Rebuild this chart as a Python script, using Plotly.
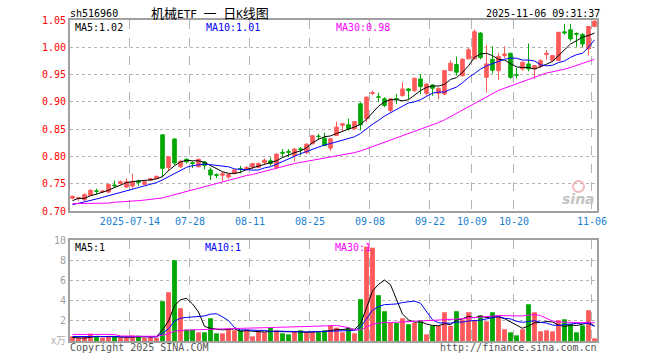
import plotly.graph_objects as go

# ---------------- data ----------------
dates = [
    "2025-06-30", "2025-07-01", "2025-07-02", "2025-07-03", "2025-07-04", "2025-07-07", "2025-07-08",
    "2025-07-09", "2025-07-10", "2025-07-11", "2025-07-14", "2025-07-15", "2025-07-16", "2025-07-17",
    "2025-07-18", "2025-07-21", "2025-07-22", "2025-07-23", "2025-07-24", "2025-07-25", "2025-07-28",
    "2025-07-29", "2025-07-30", "2025-07-31", "2025-08-01", "2025-08-04", "2025-08-05", "2025-08-06",
    "2025-08-07", "2025-08-08", "2025-08-11", "2025-08-12", "2025-08-13", "2025-08-14", "2025-08-15",
    "2025-08-18", "2025-08-19", "2025-08-20", "2025-08-21", "2025-08-22", "2025-08-25", "2025-08-26",
    "2025-08-27", "2025-08-28", "2025-08-29", "2025-09-01", "2025-09-02", "2025-09-03", "2025-09-04",
    "2025-09-05", "2025-09-08", "2025-09-09", "2025-09-10", "2025-09-11", "2025-09-12", "2025-09-15",
    "2025-09-16", "2025-09-17", "2025-09-18", "2025-09-19", "2025-09-22", "2025-09-23", "2025-09-24",
    "2025-09-25", "2025-09-26", "2025-09-29", "2025-09-30", "2025-10-09", "2025-10-10", "2025-10-13",
    "2025-10-14", "2025-10-15", "2025-10-16", "2025-10-17", "2025-10-20", "2025-10-21", "2025-10-22",
    "2025-10-23", "2025-10-24", "2025-10-27", "2025-10-28", "2025-10-29", "2025-10-30", "2025-10-31",
    "2025-11-03", "2025-11-04", "2025-11-05", "2025-11-06",
]

open_ = [
    0.7235, 0.7230, 0.7205, 0.7285, 0.7370, 0.7350, 0.7346, 0.7475, 0.7506, 0.7438,
    0.7457, 0.7549, 0.7488, 0.7562, 0.7593, 0.8395, 0.7796, 0.8320, 0.7810, 0.7950,
    0.7885, 0.7810, 0.7900, 0.7753, 0.7666, 0.7654, 0.7623, 0.7685, 0.7778, 0.7765,
    0.7808, 0.7800, 0.7889, 0.7920, 0.7796, 0.8075, 0.8090, 0.8020, 0.8140, 0.8070,
    0.8232, 0.8372, 0.8335, 0.8152, 0.8384, 0.8570, 0.8579, 0.8506, 0.8964, 0.8690,
    0.9155, 0.9092, 0.9055, 0.8842, 0.9060, 0.9114, 0.9236, 0.9206, 0.9420, 0.9157,
    0.9310, 0.9157, 0.9144, 0.9574, 0.9684, 0.9480, 0.9788, 0.9788, 1.0260, 0.9450,
    0.9780, 0.9570, 0.9848, 0.9890, 0.9497, 0.9604, 0.9695, 0.9604, 0.9652, 0.9866,
    0.9756, 0.9756, 1.0284, 1.0320, 1.0253, 1.0235, 0.9970, 1.0380,
]
high = [
    0.7280, 0.7255, 0.7320, 0.7395, 0.7410, 0.7375, 0.7500, 0.7560, 0.7560, 0.7599,
    0.7685, 0.7574, 0.7540, 0.7610, 0.7648, 0.8400, 0.8000, 0.8330, 0.7940, 0.7960,
    0.7907, 0.7956, 0.7910, 0.7796, 0.7690, 0.7716, 0.7680, 0.7760, 0.7827, 0.7827,
    0.7880, 0.7890, 0.7963, 0.7980, 0.8050, 0.8136, 0.8134, 0.8150, 0.8170, 0.8240,
    0.8390, 0.8415, 0.8433, 0.8330, 0.8640, 0.8610, 0.8690, 0.8650, 0.8990, 0.9100,
    0.9208, 0.9165, 0.9086, 0.9070, 0.9144, 0.9360, 0.9249, 0.9440, 0.9512, 0.9340,
    0.9320, 0.9260, 0.9580, 0.9760, 0.9831, 0.9800, 0.9990, 1.0330, 1.0280, 1.0040,
    1.0020, 0.9900, 1.0020, 0.9900, 0.9620, 0.9735, 1.0070, 0.9665, 0.9780, 0.9950,
    0.9855, 1.0280, 1.0430, 1.0430, 1.0270, 1.0260, 1.0390, 1.0490,
]
low = [
    0.7215, 0.7185, 0.7180, 0.7280, 0.7305, 0.7335, 0.7327, 0.7426, 0.7488, 0.7426,
    0.7414, 0.7457, 0.7480, 0.7556, 0.7590, 0.7620, 0.7734, 0.7846, 0.7790, 0.7870,
    0.7790, 0.7800, 0.7765, 0.7568, 0.7600, 0.7550, 0.7590, 0.7670, 0.7690, 0.7735,
    0.7765, 0.7780, 0.7858, 0.7827, 0.7765, 0.7980, 0.7990, 0.7908, 0.8018, 0.8040,
    0.8220, 0.8310, 0.8189, 0.8100, 0.8380, 0.8470, 0.8476, 0.8490, 0.8476, 0.8630,
    0.9120, 0.8995, 0.8903, 0.8800, 0.8960, 0.9096, 0.9050, 0.9180, 0.9144, 0.9114,
    0.9114, 0.9050, 0.9120, 0.9560, 0.9480, 0.9460, 0.9780, 0.9780, 0.9780, 0.9170,
    0.9520, 0.9405, 0.9800, 0.9420, 0.9430, 0.9570, 0.9560, 0.9420, 0.9620, 0.9770,
    0.9740, 0.9750, 1.0230, 1.0110, 1.0010, 1.0000, 0.9846, 1.0380,
]
close = [
    0.7270, 0.7245, 0.7300, 0.7380, 0.7360, 0.7365, 0.7488, 0.7463, 0.7537, 0.7537,
    0.7531, 0.7525, 0.7537, 0.7593, 0.7636, 0.7780, 0.7994, 0.7880, 0.7910, 0.7900,
    0.7870, 0.7950, 0.7833, 0.7660, 0.7654, 0.7685, 0.7673, 0.7753, 0.7772, 0.7796,
    0.7870, 0.7870, 0.7932, 0.7870, 0.8043, 0.8060, 0.8075, 0.8135, 0.8125, 0.8225,
    0.8380, 0.8366, 0.8201, 0.8323, 0.8537, 0.8600, 0.8506, 0.8640, 0.8579, 0.9086,
    0.9170, 0.9086, 0.8933, 0.9055, 0.9050, 0.9236, 0.9206, 0.9433, 0.9280, 0.9328,
    0.9249, 0.9249, 0.9574, 0.9708, 0.9543, 0.9780, 0.9954, 1.0285, 0.9810, 0.9696,
    0.9580, 0.9830, 0.9878, 0.9450, 0.9488, 0.9726, 0.9604, 0.9665, 0.9756, 0.9890,
    0.9848, 1.0275, 1.0265, 1.0154, 1.0240, 1.0060, 1.0380, 1.0480,
]

ma5 = [
    0.719, 0.7232, 0.7232, 0.728, 0.731, 0.734, 0.738, 0.743, 0.748, 0.752,
    0.754, 0.755, 0.755, 0.757, 0.759, 0.763, 0.774, 0.783, 0.790, 0.793,
    0.792, 0.792, 0.789, 0.783, 0.777, 0.772, 0.769, 0.769, 0.771, 0.776,
    0.779, 0.782, 0.785, 0.788, 0.792, 0.798, 0.803, 0.807, 0.810, 0.816,
    0.825, 0.8315, 0.836, 0.8376, 0.842, 0.8467, 0.850, 0.854, 0.859, 0.868,
    0.880, 0.892, 0.900, 0.904, 0.904, 0.902, 0.904, 0.913, 0.9206, 0.9267,
    0.929, 0.929, 0.932, 0.941, 0.9445, 0.954, 0.966, 0.9815, 0.9877, 0.989,
    0.9846, 0.978, 0.9766, 0.970, 0.964, 0.963, 0.963, 0.960, 0.964, 0.969,
    0.974, 0.9846, 0.997, 1.006, 1.012, 1.0185, 1.0216, 1.026,
]
ma10 = [
    0.7116, 0.714, 0.716, 0.719, 0.722, 0.725, 0.728, 0.731, 0.734, 0.737,
    0.740, 0.743, 0.746, 0.749, 0.752, 0.757, 0.763, 0.769, 0.775, 0.780,
    0.783, 0.785, 0.786, 0.785, 0.784, 0.783, 0.781, 0.777, 0.776, 0.775,
    0.775, 0.775, 0.779, 0.781, 0.786, 0.791, 0.795, 0.801, 0.805, 0.809,
    0.813, 0.8176, 0.821, 0.8236, 0.8267, 0.830, 0.833, 0.836, 0.842, 0.851,
    0.859, 0.866, 0.874, 0.880, 0.886, 0.892, 0.898, 0.900, 0.904, 0.910,
    0.916, 0.918, 0.918, 0.923, 0.927, 0.935, 0.9445, 0.952, 0.960, 0.966,
    0.970, 0.9735, 0.978, 0.980, 0.980, 0.9766, 0.9766, 0.975, 0.968, 0.966,
    0.967, 0.972, 0.975, 0.9815, 0.9864, 0.989, 1.000, 1.0136,
]
ma30 = [
    0.7135, 0.7135, 0.7135, 0.7135, 0.7135, 0.7135, 0.7145, 0.716, 0.7165, 0.717,
    0.718, 0.719, 0.720, 0.721, 0.722, 0.724, 0.727, 0.730, 0.733, 0.736,
    0.739, 0.742, 0.745, 0.748, 0.751, 0.754, 0.757, 0.760, 0.763, 0.765,
    0.767, 0.770, 0.773, 0.776, 0.779, 0.782, 0.785, 0.787, 0.789, 0.791,
    0.793, 0.795, 0.797, 0.798, 0.800, 0.802, 0.804, 0.807, 0.810, 0.814,
    0.817, 0.821, 0.825, 0.829, 0.833, 0.837, 0.841, 0.845, 0.849, 0.853,
    0.858, 0.862, 0.867, 0.873, 0.880, 0.886, 0.892, 0.898, 0.904, 0.910,
    0.916, 0.921, 0.925, 0.929, 0.933, 0.937, 0.941, 0.945, 0.949, 0.953,
    0.955, 0.957, 0.960, 0.963, 0.967, 0.971, 0.974, 0.978,
]

volume = [
    0.46, 0.33, 0.40, 0.73, 0.40, 0.33, 0.46, 0.40, 0.33, 0.40,
    0.56, 0.53, 0.33, 0.40, 0.33, 3.94, 4.83, 8.00, 3.25, 1.13,
    1.13, 0.86, 0.86, 2.25, 0.76, 0.76, 1.16, 1.06, 1.06, 1.13,
    0.46, 0.96, 0.86, 1.29, 1.06, 0.76, 0.66, 0.96, 1.06, 0.86,
    0.86, 0.86, 1.06, 1.55, 1.32, 0.86, 1.32, 0.76, 4.14, 9.34,
    9.24, 4.54, 2.95, 1.79, 1.79, 2.25, 1.66, 1.79, 2.05, 0.66,
    1.52, 1.52, 2.85, 1.49, 2.95, 2.12, 2.85, 2.05, 2.52, 1.95,
    2.85, 2.55, 1.16, 0.86, 0.56, 1.16, 3.64, 2.85, 0.96, 1.06,
    0.96, 2.05, 2.15, 1.66, 0.86, 1.55, 3.05, 0.26,
]
vol_ma5 = [
    0.35, 0.33, 0.28, 0.38, 0.46, 0.44, 0.46, 0.46, 0.38, 0.38,
    0.43, 0.44, 0.43, 0.44, 0.43, 1.11, 1.97, 3.50, 4.07, 4.23,
    3.67, 2.87, 1.45, 1.25, 1.17, 1.10, 1.16, 1.20, 0.96, 1.03,
    0.97, 0.93, 0.89, 0.94, 0.93, 0.99, 0.93, 0.95, 0.90, 0.86,
    0.88, 0.92, 0.94, 1.04, 1.13, 1.13, 1.22, 1.16, 1.68, 3.28,
    4.96, 5.60, 6.04, 5.57, 4.06, 2.66, 2.09, 1.86, 1.91, 1.68,
    1.54, 1.51, 1.72, 1.61, 2.07, 2.19, 2.45, 2.29, 2.50, 2.30,
    2.44, 2.38, 2.21, 1.87, 1.60, 1.26, 1.48, 1.81, 1.83, 1.93,
    1.89, 1.58, 1.44, 1.58, 1.54, 1.65, 1.85, 1.48,
]
vol_ma10 = [
    0.45, 0.44, 0.43, 0.43, 0.43, 0.43, 0.42, 0.42, 0.42, 0.42,
    0.43, 0.45, 0.45, 0.41, 0.41, 0.77, 1.21, 1.97, 2.26, 2.33,
    2.39, 2.42, 2.48, 2.66, 2.70, 2.39, 2.02, 1.33, 1.10, 1.10,
    1.04, 1.05, 1.05, 0.95, 0.98, 0.98, 0.93, 0.92, 0.92, 0.90,
    0.94, 0.93, 0.95, 0.97, 1.00, 1.00, 1.07, 1.05, 1.36, 2.20,
    3.05, 3.41, 3.60, 3.63, 3.67, 3.81, 3.85, 3.95, 3.74, 2.87,
    2.10, 1.80, 1.79, 1.76, 1.88, 1.87, 1.98, 2.00, 2.06, 2.19,
    2.32, 2.42, 2.25, 2.19, 1.95, 1.85, 1.93, 2.01, 1.85, 1.77,
    1.58, 1.53, 1.63, 1.71, 1.74, 1.77, 1.72, 1.46,
]
vol_ma30 = [
    0.65, 0.65, 0.65, 0.65, 0.65, 0.65, 0.65, 0.65, 0.50, 0.47,
    0.47, 0.47, 0.47, 0.47, 0.47, 0.57, 0.72, 0.97, 1.06, 1.08,
    1.10, 1.11, 1.12, 1.18, 1.19, 1.20, 1.22, 1.24, 1.25, 1.27,
    1.27, 1.29, 1.31, 1.33, 1.35, 1.36, 1.37, 1.39, 1.41, 1.43,
    1.44, 1.45, 1.47, 1.51, 1.54, 1.44, 1.32, 1.08, 1.11, 1.38,
    1.65, 1.77, 1.84, 1.83, 1.86, 1.91, 1.93, 1.95, 1.98, 1.96,
    2.00, 2.02, 2.09, 2.10, 2.16, 2.20, 2.28, 2.31, 2.36, 2.40,
    2.46, 2.52, 2.52, 2.50, 2.47, 2.48, 2.56, 2.63, 2.52, 2.25,
    1.97, 1.89, 1.86, 1.86, 1.83, 1.81, 1.85, 1.80,
]

tick_dates = ["2025-07-14", "2025-07-28", "2025-08-11", "2025-08-25", "2025-09-08",
              "2025-09-22", "2025-10-09", "2025-10-20", "2025-11-06"]
tick_text = ["2025-07-14", "07-28", "08-11", "08-25", "09-08", "09-22", "10-09", "10-20", "11-06"]
price_ticks = [0.70, 0.75, 0.80, 0.85, 0.90, 0.95, 1.00, 1.05]
vol_ticks = [2, 4, 6, 8, 10]

# ---------------- styling / layout helpers ----------------
W, H = 660, 360
ML, MR, MT, MB = 70, 63, 20, 19
PW, PH = W - ML - MR, H - MT - MB

def px(x, y):
    return (x - ML) / PW, (H - MB - y) / PH

UP = "#ff5a5a"
DOWN = "#00a800"
MONO = "DejaVu Sans Mono"
CJK = "Noto Sans CJK SC"
GRID = "#b4b4b4"
FRAME = "#a0a0a0"

n = len(dates)
xi = list(range(n))
x_range = [-0.417, n - 1 + 0.417]
tickpos = [dates.index(d) - 0.42 for d in tick_dates]
vol_colors = [UP if c >= o else DOWN for o, c in zip(open_, close)]

fig = go.Figure()
fig.add_trace(go.Candlestick(
    x=xi, open=open_, high=high, low=low, close=close,
    increasing=dict(line=dict(color=UP, width=1), fillcolor=UP),
    decreasing=dict(line=dict(color=DOWN, width=1), fillcolor=DOWN),
    whiskerwidth=0, showlegend=False, hoverinfo="skip",
    xaxis="x", yaxis="y",
))
for series, color in ((ma5, "#000000"), (ma10, "#0000ff"), (ma30, "#ff00ff")):
    fig.add_trace(go.Scatter(x=xi, y=series, mode="lines", line=dict(color=color, width=1),
                             showlegend=False, hoverinfo="skip", xaxis="x", yaxis="y"))

fig.add_trace(go.Bar(x=xi, y=volume, marker=dict(color=vol_colors, line=dict(width=0)),
                     width=0.8, showlegend=False, hoverinfo="skip", xaxis="x2", yaxis="y2"))
for series, color in ((vol_ma5, "#000000"), (vol_ma10, "#0000ff"), (vol_ma30, "#ff00ff")):
    fig.add_trace(go.Scatter(x=xi, y=series, mode="lines", line=dict(color=color, width=1),
                             showlegend=False, hoverinfo="skip", xaxis="x2", yaxis="y2"))

frame = dict(showline=True, mirror=True, linecolor=FRAME, linewidth=2, zeroline=False, ticks="")

price_dom = [(H - MB - 211) / PH, 1.0]
vol_dom = [0.0, (H - MB - 240) / PH]

fig.update_layout(
    width=W, height=H,
    margin=dict(l=ML, r=MR, t=MT, b=MB, pad=0),
    paper_bgcolor="white", plot_bgcolor="white",
    boxgap=0.15,
    showlegend=False,
    xaxis=dict(domain=[0, 1], anchor="y", range=x_range, tickmode="array",
               tickvals=tickpos, ticktext=tick_text,
               tickfont=dict(family=MONO, size=10, color="#1a7fd0"),
               showgrid=True, gridcolor=GRID, gridwidth=1, griddash="dash",
               rangeslider=dict(visible=False), **frame),
    yaxis=dict(domain=price_dom, anchor="x", range=[0.70, 1.05], tickmode="array",
               tickvals=price_ticks, ticktext=[f"{v:.2f}" for v in price_ticks],
               tickfont=dict(family=MONO, size=10, color="#ff0000"),
               showgrid=True, gridcolor=GRID, gridwidth=1, griddash="dot", **frame),
    xaxis2=dict(domain=[0, 1], anchor="y2", range=x_range, tickmode="array",
                tickvals=tickpos, showticklabels=False,
                showgrid=True, gridcolor=GRID, gridwidth=1, griddash="dash", **frame),
    yaxis2=dict(domain=vol_dom, anchor="x2", range=[0, 10], tickmode="array",
                tickvals=vol_ticks, ticktext=[str(v) for v in vol_ticks],
                tickfont=dict(family=MONO, size=10, color="#a0a0a0"),
                showgrid=True, gridcolor=GRID, gridwidth=1, griddash="dot", **frame),
)

def note(text, x, y, color="#000000", size=10, xanchor="left", family=MONO):
    ax, ay = px(x, y)
    fig.add_annotation(text=text, x=ax, y=ay, xref="paper", yref="paper", showarrow=False,
                       xanchor=xanchor, yanchor="middle", borderpad=0,
                       font=dict(family=family, size=size, color=color))

note("sh516960", 69, 13.5)
lat = "<span style='font-family:DejaVu Sans Mono;font-size:11px'>%s</span>"
title_html = "机械" + lat % "ETF&nbsp;" + "一" + lat % "&nbsp;" + "日" + lat % "K" + "线图"
note(title_html, 150, 12.5, size=13, family=CJK)
note("2025-11-06 09:31:37", 601, 13.5, xanchor="right")
note("MA5:1.02", 74, 27)
note("MA10:1.01", 205, 27, color="#0000ff")
note("MA30:0.98", 335, 27, color="#ff00ff")
note("MA5:1", 74, 247)
note("MA10:1", 204, 247, color="#0000ff")
note("MA30:1", 334, 247, color="#ff00ff")
note("x万", 67, 339, color="#b0b0b0", xanchor="right", family=CJK, size=10)
note("Copyright 2025 SINA.COM", 69, 347, color="#555555")
note("http://finance.sina.com.cn", 598, 347, color="#555555", xanchor="right")
note("<b><i>sina</i></b>", 596, 199, color="#c4c4c4", size=14, xanchor="right", family="DejaVu Sans")

# faint sina eye logo
cx0, cy0 = px(573, 181)
cx1, cy1 = px(584, 192)
fig.add_shape(type="circle", xref="paper", yref="paper", x0=cx0, y0=cy1, x1=cx1, y1=cy0,
              line=dict(color="#f4b8b8", width=2))

fig.write_html("out.html", config={"displayModeBar": False},
               post_script="document.body.style.margin='0';")
